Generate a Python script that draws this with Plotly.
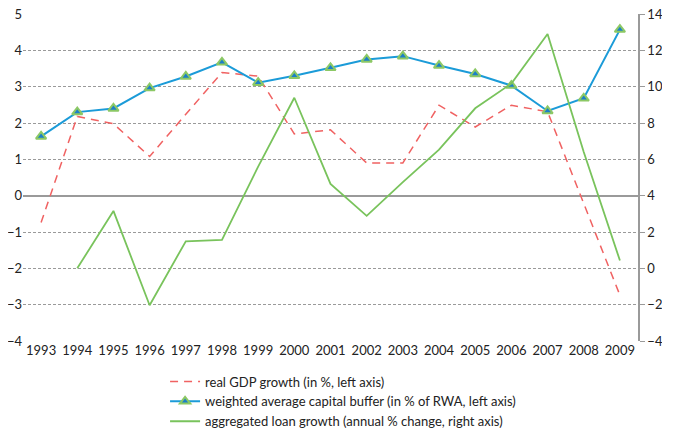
import plotly.graph_objects as go

years = [str(y) for y in range(1993, 2010)]
gdp_growth = [-0.74, 2.18, 1.98, 1.08, 2.24, 3.39, 3.29, 1.70, 1.81, 0.90, 0.90,
              2.49, 1.89, 2.49, 2.31, -0.21, -2.74]
capital_buffer = [1.63, 2.30, 2.40, 2.96, 3.28, 3.67, 3.11, 3.30, 3.52, 3.75, 3.84,
                  3.58, 3.35, 3.03, 2.33, 2.68, 4.57]
loan_years = [str(y) for y in range(1994, 2010)]
loan_growth = [0.0, 3.16, -2.03, 1.49, 1.56, 5.6, 9.39, 4.65, 2.89, 4.75,
               6.53, 8.81, 10.17, 12.9, 6.4, 0.43]

FONT = "Lato"

fig = go.Figure()
fig.add_trace(go.Scatter(
    x=years, y=gdp_growth, mode="lines",
    name="real GDP growth (in %, left axis)",
    line=dict(color="#F06262", width=1.5, dash="8px,6px"),
    legendgroup="a", yaxis="y"))
fig.add_trace(go.Scatter(
    x=years, y=capital_buffer, mode="lines+markers",
    name="weighted average capital buffer (in % of RWA, left axis)",
    line=dict(color="#1B9BD8", width=2),
    marker=dict(symbol="triangle-up", size=9, color="#1B7FC8",
                line=dict(color="#8CC865", width=2)),
    legendgroup="b", yaxis="y"))
fig.add_trace(go.Scatter(
    x=loan_years, y=loan_growth, mode="lines",
    name="aggregated loan growth (annual % change, right axis)",
    line=dict(color="#79C35C", width=1.8),
    legendgroup="c", yaxis="y2"))

# page body has an 8px default margin, so the figure is sized to fit the window
fig.update_layout(
    width=654, height=424,
    margin=dict(l=15, r=24, t=6, b=91, autoexpand=False),
    paper_bgcolor="white", plot_bgcolor="white",
    font=dict(family=FONT, size=13, color="#222222"),
    xaxis=dict(type="category", range=[-0.5, 16.5], showgrid=False,
               showline=False, ticks="", tickfont=dict(size=13),
               automargin=False),
    yaxis=dict(range=[-4, 5], dtick=1, showgrid=True, gridcolor="#9A9A9A",
               griddash="3px,2px", gridwidth=1, zeroline=True,
               zerolinecolor="#9A9A9A", zerolinewidth=1.5, showline=False,
               ticks="", tickfont=dict(size=13), automargin=False,
               ticklabeloverflow="allow"),
    yaxis2=dict(range=[-4, 14], dtick=2, overlaying="y", side="right",
                showgrid=False, zeroline=False, showline=True,
                linecolor="#9A9A9A", linewidth=1.5, ticks="outside",
                ticklen=5, tickcolor="#9A9A9A", tickfont=dict(size=13),
                automargin=False, ticklabeloverflow="allow"),
    showlegend=True,
    legend=dict(orientation="v", x=0.231, xanchor="left", y=-0.078,
                yanchor="top", tracegroupgap=0, font=dict(size=13),
                bgcolor="rgba(0,0,0,0)"),
)

fig.write_html("out.html")
